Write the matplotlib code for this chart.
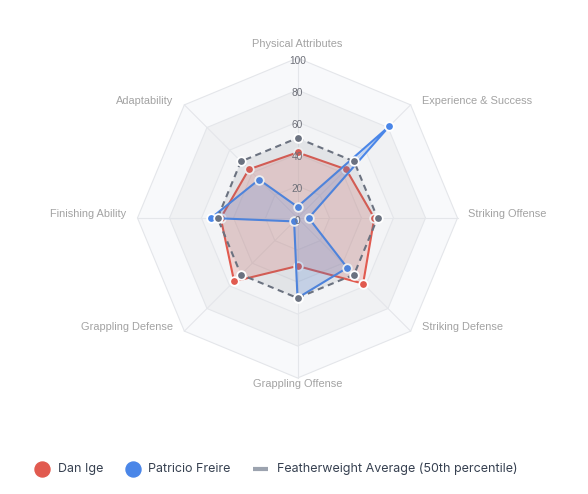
import numpy as np
import matplotlib.pyplot as plt
from matplotlib.lines import Line2D

# Data ------------------------------------------------------------------------

categories = ["Physical Attributes", "Experience & Success", "Striking Offense",
              "Striking Defense", "Grappling Offense", "Grappling Defense",
              "Finishing Ability", "Adaptability"]
dan_ige = [41, 43, 48, 58, 30, 56, 48, 43]
patricio_freire = [7, 81, 7, 44, 50, 3, 54, 34]
featherweight_avg = [50, 50, 50, 50, 50, 50, 50, 50]
ring_ticks = [0, 20, 40, 60, 80, 100]
legend_labels = ["Dan Ige", "Patricio Freire",
                 "Featherweight Average (50th percentile)"]

# Style -----------------------------------------------------------------------

RED = "#e15a4f"
BLUE = "#4a86e8"
GREY = "#6b7280"
GRID = "#e4e6ea"
BANDS = ["#f3f4f6", "#f0f1f3", "#f3f4f6", "#f0f1f3", "#f8f9fb"]  # inner -> outer
LABEL_FONT = "Liberation Sans"

W, H = 588, 494
CX, CY = 297.5, 218   # radar centre, pixels from top-left
PX = 1.6              # pixels per value unit

plt.rcParams["font.family"] = [LABEL_FONT, "DejaVu Sans"]

fig = plt.figure(figsize=(W / 100, H / 100), dpi=100)
ax = fig.add_axes([0, 0, 1, 1])
ax.set_xlim(-CX / PX, (W - CX) / PX)
ax.set_ylim(-(H - CY) / PX, CY / PX)
ax.axis("off")

angles = np.arange(len(categories)) * 2 * np.pi / len(categories)


def to_xy(values):
    v = np.asarray(values, dtype=float)
    return v * np.sin(angles), v * np.cos(angles)


def closed(a):
    return np.append(a, a[0])


# Background bands, rings and spokes
for r, col in zip(ring_ticks[:0:-1], BANDS[::-1]):
    x, y = to_xy([r] * len(categories))
    ax.fill(x, y, color=col, lw=0, zorder=0)
for r in ring_ticks[1:]:
    x, y = to_xy([r] * len(categories))
    ax.plot(closed(x), closed(y), color=GRID, lw=0.8, zorder=1)
ox, oy = to_xy([ring_ticks[-1]] * len(categories))
for x, y in zip(ox, oy):
    ax.plot([0, x], [0, y], color=GRID, lw=0.8, zorder=1)

# Series (each one drawn fully on top of the previous)
series = [(dan_ige, RED, "-", 0.2), (patricio_freire, BLUE, "-", 0.2),
          (featherweight_avg, GREY, (0, (3, 2.2)), 0.12)]
for i, (vals, col, ls, alpha) in enumerate(series):
    x, y = to_xy(vals)
    z = 2 + 3 * i
    ax.fill(x, y, color=col, alpha=alpha, lw=0, zorder=z)
    ax.plot(closed(x), closed(y), color=col, lw=1.5, ls=ls, zorder=z + 1)
    ax.plot(x, y, ls="none", marker="o", ms=6.2, mfc=col, mec="white",
            mew=1.3, zorder=z + 2)

# Ring value labels
for r in ring_ticks:
    ax.annotate(str(r), (0, r), xytext=(0, -2.5), textcoords="offset pixels",
                ha="center", va="center", fontsize=7.3, color="#6e7079",
                zorder=20)

# Category labels
for name, x, y, ang in zip(categories, ox, oy, angles):
    s = np.sin(ang)
    if abs(s) < 1e-6:
        ha = "center"
        off = (0, 14) if np.cos(ang) > 0 else (0, -6)
    else:
        ha = "left" if s > 0 else "right"
        off = (11 if s > 0 else -11, 4)
    ax.annotate(name, (x, y), xytext=off, textcoords="offset pixels",
                ha=ha, va="center", fontsize=7.9, color="#a3a3a3")

# Legend (drawn by hand to match the web layout)
LEG_Y = 1 - 469 / H
legend_font = ["Inter", "DejaVu Sans"]
handles = [(42.3, 57.5, "o", RED), (132.7, 148.3, "o", BLUE),
           (260.8, 276.7, "_", "#9ca3af")]
for (hx, tx, mk, col), label in zip(handles, legend_labels):
    if mk == "o":
        fig.add_artist(Line2D([hx / W], [LEG_Y], transform=fig.transFigure,
                              marker="o", ms=10.8, mfc=col, mec=col, ls="none"))
    else:
        fig.add_artist(Line2D([(hx - 7.5) / W, (hx + 7.5) / W], [LEG_Y, LEG_Y],
                              transform=fig.transFigure, color=col, lw=3,
                              solid_capstyle="butt"))
    fig.text(tx / W, LEG_Y, label, ha="left", va="center", fontsize=9.0,
             color="#374151", family=legend_font)

fig.savefig("out.png", dpi=100, facecolor="white")
